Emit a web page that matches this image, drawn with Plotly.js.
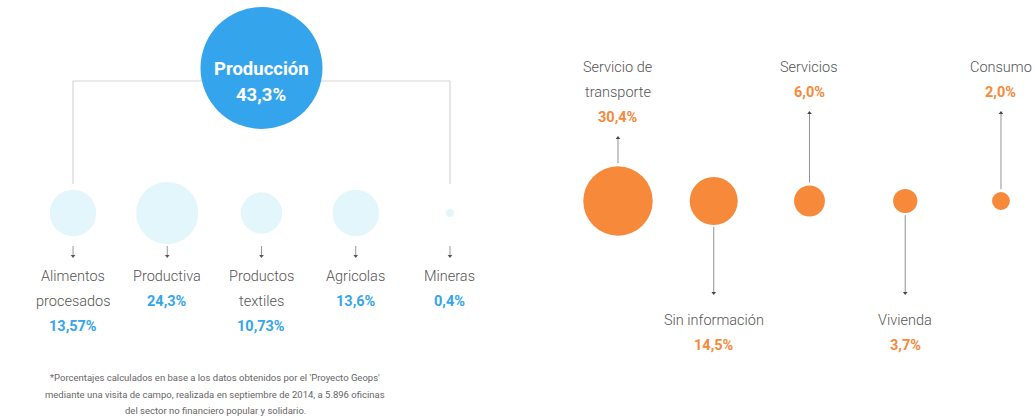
<!DOCTYPE html>
<html>
<head>
<meta charset="utf-8">
<script src="https://cdn.plot.ly/plotly-3.0.1.min.js"></script>
<style>html,body{margin:0;padding:0;background:#fff;}#chart{width:1035px;height:420px;}</style>
</head>
<body>
<div id="chart"></div>
<script>
// ---- data ----
const totalName = "Producción";
const totalValue = 43.3;
const totalLabel = "43,3%";

const leftNames = ["Alimentos<br>procesados", "Productiva", "Productos<br>textiles", "Agricolas", "Mineras"];
const leftValues = [13.57, 24.3, 10.73, 13.6, 0.4];
const leftLabels = ["13,57%", "24,3%", "10,73%", "13,6%", "0,4%"];

const rightNames = ["Servicio de<br>transporte", "Sin información", "Servicios", "Vivienda", "Consumo"];
const rightValues = [30.4, 14.5, 6.0, 3.7, 2.0];
const rightLabels = ["30,4%", "14,5%", "6,0%", "3,7%", "2,0%"];
const rightSide = ["top", "bottom", "top", "bottom", "top"];

const footnote = [
  "*Porcentajes calculados en base a los datos obtenidos por el 'Proyecto Geops'",
  "mediante una visita de campo, realizada en septiembre de 2014, a 5.896 oficinas",
  "del sector no financiero popular y solidario."
];

// ---- styling / layout constants ----
const BLUE = "#34a5ec", LIGHT = "#e3f6fb", ORANGE = "#f7893b";
const GREY_TXT = "#555555", LINE = "#d6d6d6", DARK = "#777777";
const FONT = "Roboto, 'Open Sans', sans-serif";
const K = 6.3;                       // px radius per sqrt(percent)
const SREF = 1 / (2 * K * K);
const rad = v => K * Math.sqrt(v);
const TOTAL_R = 61;
const TOTAL_SREF = totalValue / (2 * TOTAL_R * TOTAL_R);
const LEFT_Y = 213, RIGHT_Y = 201, TOTAL_Y = 68, TREE_Y = 81, TREE_END = 184;
const PITCH = 25;

const idx = leftNames.map((_, i) => i);
const ridx = rightNames.map((_, i) => i);

const traces = [];
// tree bracket
traces.push({x: [0, 0, idx.length - 1, idx.length - 1], y: [TREE_END, TREE_Y, TREE_Y, TREE_END],
  xaxis: "x", yaxis: "y", mode: "lines", line: {color: LINE, width: 1.2}, hoverinfo: "skip"});
// total circle
traces.push({x: [(idx.length - 1) / 2], y: [TOTAL_Y], xaxis: "x", yaxis: "y", mode: "markers",
  marker: {size: [totalValue], sizemode: "area", sizeref: TOTAL_SREF, color: BLUE, opacity: 1, line: {width: 0}}, hoverinfo: "skip"});
// left bubbles
traces.push({x: idx, y: idx.map(() => LEFT_Y), xaxis: "x", yaxis: "y", mode: "markers",
  marker: {size: leftValues, sizemode: "area", sizeref: SREF, color: LIGHT, opacity: 1, line: {width: 0}}, hoverinfo: "skip"});
// left arrow stubs
idx.forEach(i => {
  traces.push({x: [i, i], y: [246, 255], xaxis: "x", yaxis: "y", mode: "lines",
    line: {color: "#999", width: 1}, hoverinfo: "skip"});
});
traces.push({x: idx, y: idx.map(() => 256), xaxis: "x", yaxis: "y", mode: "markers",
  marker: {symbol: "triangle-down", size: 4, color: "#555", opacity: 1}, hoverinfo: "skip"});

// right connectors
const annotations = [];
ridx.forEach(i => {
  const r = rad(rightValues[i]);
  const lines = rightNames[i].split("<br>");
  if (rightSide[i] === "top") {
    const top = 67;
    const dotY = top + lines.length * PITCH + 21;
    traces.push({x: [i, i], y: [dotY, RIGHT_Y - r - 3], xaxis: "x2", yaxis: "y", mode: "lines",
      line: {color: DARK, width: 0.8}, hoverinfo: "skip"});
    traces.push({x: [i], y: [dotY], xaxis: "x2", yaxis: "y", mode: "markers",
      marker: {symbol: "triangle-up", size: 4, color: "#444", opacity: 1}, hoverinfo: "skip"});
    lines.forEach((t, j) => annotations.push({x: i, y: top + j * PITCH, xref: "x2", yref: "y", text: t,
      showarrow: false, xanchor: "center", yanchor: "middle", font: {family: FONT, size: 14.5, color: GREY_TXT, weight: 300}}));
    annotations.push({x: i, y: top + lines.length * PITCH, xref: "x2", yref: "y", text: "<b>" + rightLabels[i] + "</b>",
      showarrow: false, xanchor: "center", yanchor: "middle", font: {family: FONT, size: 14.5, color: ORANGE}});
  } else {
    const dotY = 293;
    traces.push({x: [i, i], y: [RIGHT_Y + r + 2, dotY], xaxis: "x2", yaxis: "y", mode: "lines",
      line: {color: DARK, width: 0.8}, hoverinfo: "skip"});
    traces.push({x: [i], y: [dotY], xaxis: "x2", yaxis: "y", mode: "markers",
      marker: {symbol: "triangle-down", size: 4, color: "#444", opacity: 1}, hoverinfo: "skip"});
    lines.forEach((t, j) => annotations.push({x: i, y: 320 + j * PITCH, xref: "x2", yref: "y", text: t,
      showarrow: false, xanchor: "center", yanchor: "middle", font: {family: FONT, size: 14.5, color: GREY_TXT, weight: 300}}));
    annotations.push({x: i, y: 320 + lines.length * PITCH, xref: "x2", yref: "y", text: "<b>" + rightLabels[i] + "</b>",
      showarrow: false, xanchor: "center", yanchor: "middle", font: {family: FONT, size: 14.5, color: ORANGE}});
  }
});
// right bubbles
traces.push({x: ridx, y: ridx.map(() => RIGHT_Y), xaxis: "x2", yaxis: "y", mode: "markers",
  marker: {size: rightValues, sizemode: "area", sizeref: SREF, color: ORANGE, opacity: 1, line: {width: 0}}, hoverinfo: "skip"});

// left labels
idx.forEach(i => {
  const lines = leftNames[i].split("<br>");
  lines.forEach((t, j) => annotations.push({x: i, y: 276 + j * PITCH, xref: "x", yref: "y", text: t,
    showarrow: false, xanchor: "center", yanchor: "middle", font: {family: FONT, size: 14.5, color: GREY_TXT, weight: 300}}));
  annotations.push({x: i, y: 276 + lines.length * PITCH, xref: "x", yref: "y", text: "<b>" + leftLabels[i] + "</b>",
    showarrow: false, xanchor: "center", yanchor: "middle", font: {family: FONT, size: 14.5, color: BLUE}});
});
// total text
annotations.push({x: (idx.length - 1) / 2, y: 69, xref: "x", yref: "y", text: "<b>" + totalName + "</b>",
  showarrow: false, xanchor: "center", yanchor: "middle", font: {family: FONT, size: 18.5, color: "#ffffff"}});
annotations.push({x: (idx.length - 1) / 2, y: 95, xref: "x", yref: "y", text: "<b>" + totalLabel + "</b>",
  showarrow: false, xanchor: "center", yanchor: "middle", font: {family: FONT, size: 18.5, color: "#ffffff"}});
// footnote
footnote.forEach((t, j) => annotations.push({x: 215 / 1035, y: [377, 394, 410][j], xref: "paper", yref: "y", text: t,
  showarrow: false, xanchor: "center", yanchor: "middle", font: {family: FONT, size: 9.5, color: "#666"}}));

const axisOff = {showgrid: false, zeroline: false, showticklabels: false, showline: false, ticks: "", fixedrange: true};
const layout = {
  width: 1035, height: 420,
  margin: {l: 0, r: 0, t: 0, b: 0},
  paper_bgcolor: "#ffffff", plot_bgcolor: "rgba(0,0,0,0)",
  showlegend: false,
  xaxis: Object.assign({range: [-0.5, 4.5], domain: [0.02502, 0.48029], anchor: "y"}, axisOff),
  xaxis2: Object.assign({range: [-0.5, 4.3], domain: [0.55084, 0.99488], anchor: "y"}, axisOff),
  yaxis: Object.assign({range: [420, 0], domain: [0, 1]}, axisOff),
  annotations: annotations
};
Plotly.newPlot("chart", traces, layout, {displayModeBar: false, staticPlot: true});
</script>
</body>
</html>
